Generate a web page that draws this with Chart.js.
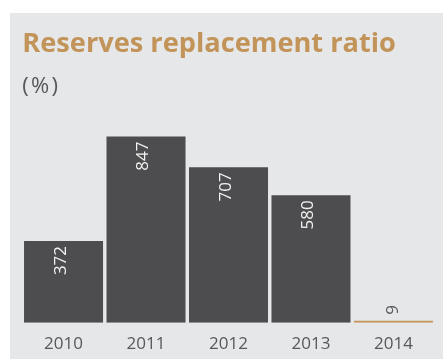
<!DOCTYPE html>
<html>
<head>
<meta charset="utf-8">
<script src="https://cdn.jsdelivr.net/npm/chart.js@4/dist/chart.umd.min.js"></script>
<style>
  html, body { margin: 0; padding: 0; background: #fff; }
  #panel { position: absolute; left: 10px; top: 13px; width: 433px; height: 346px; background: #e6e7e8; }
</style>
</head>
<body>
<div id="panel"><canvas id="rrr" width="433" height="346"></canvas></div>
<script>
const years = ['2010', '2011', '2012', '2013', '2014'];
const ratios = [372, 847, 707, 580, 9];
const barColors = ['#4d4d4f', '#4d4d4f', '#4d4d4f', '#4d4d4f', '#c4965a'];

const FAMILY = "'Open Sans', sans-serif";

// vertical value labels: inside the bar top when there is room, above it otherwise
const valueLabels = {
  id: 'valueLabels',
  afterDatasetsDraw(chart) {
    const ctx = chart.ctx;
    const meta = chart.getDatasetMeta(0);
    ctx.save();
    ctx.font = '17px ' + FAMILY;
    ctx.textBaseline = 'middle';
    meta.data.forEach((bar, i) => {
      const inside = (bar.base - bar.y) > 40;
      ctx.save();
      if (inside) {
        ctx.translate(bar.x - 2.5, bar.y + 5);
        ctx.textAlign = 'right';
        ctx.fillStyle = '#f2f2f2';
      } else {
        ctx.translate(bar.x, bar.y - 6);
        ctx.textAlign = 'left';
        ctx.fillStyle = '#58585a';
      }
      ctx.rotate(-Math.PI / 2);
      ctx.fillText(String(ratios[i]), 0, 0);
      ctx.restore();
    });
    ctx.restore();
  }
};

const chart = new Chart(document.getElementById('rrr'), {
  type: 'bar',
  data: {
    labels: years,
    datasets: [{
      data: ratios,
      backgroundColor: barColors,
      borderWidth: 0,
      barPercentage: 0.958,
      categoryPercentage: 1
    }]
  },
  options: {
    responsive: false,
    animation: false,
    layout: { padding: { left: 12.3, right: 8.3, top: 0, bottom: 0 } },
    plugins: {
      legend: { display: false },
      tooltip: { enabled: false },
      title: {
        display: true,
        text: 'Reserves replacement ratio',
        align: 'start',
        color: '#c29459',
        font: { family: FAMILY, size: 27.2, weight: 'bold', lineHeight: 1.2 },
        padding: { top: 15.2, bottom: 12.3 }
      },
      subtitle: {
        display: true,
        text: '(\u200A%\u200A)',
        align: 'start',
        color: '#58585a',
        font: { family: FAMILY, size: 22, lineHeight: 1.2 },
        padding: { top: 0, bottom: 3.4 }
      }
    },
    scales: {
      x: {
        grid: { display: false, drawTicks: false, tickLength: 0 },
        border: { display: false },
        ticks: { color: '#58585a', font: { family: FAMILY, size: 17 }, padding: 11.5 },
        afterFit(scale) { scale.height = 36.3; }
      },
      y: { display: false, min: 0, max: 1000 }
    }
  },
  plugins: [valueLabels]
});
</script>
</body>
</html>
